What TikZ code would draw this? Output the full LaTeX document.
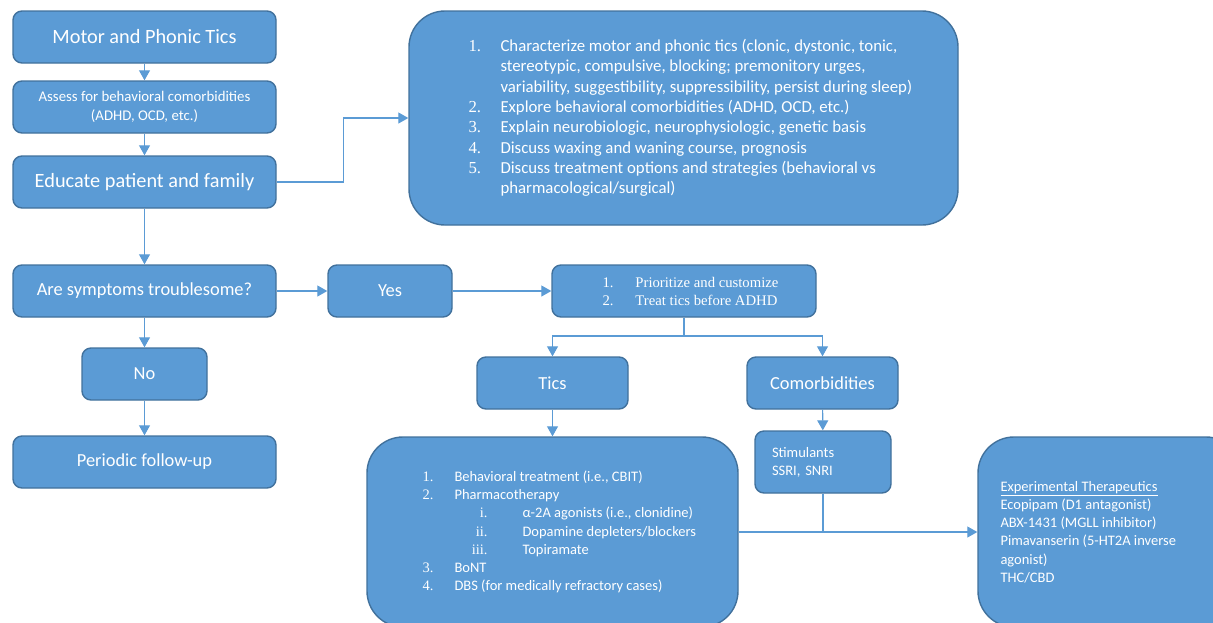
\documentclass[tikz,border=0pt]{standalone}
\usepackage{fontspec}
\setmainfont{Carlito}
\newfontfamily\numfont{Liberation Serif}
\usetikzlibrary{arrows.meta,calc,positioning}
\definecolor{boxfill}{RGB}{91,155,213}
\definecolor{boxedge}{RGB}{65,113,156}
\definecolor{linkblue}{RGB}{91,155,213}
\tikzset{
  box/.style={draw=boxedge, fill=boxfill, line width=1.4pt, rounded corners=9pt, text=white, align=center, inner sep=0pt},
  bigbox/.style={box, rounded corners=36pt},
  link/.style={-{Triangle[length=10pt,width=11pt]}, line width=1.1pt, draw=linkblue},
  joint/.style={line width=1.1pt, draw=linkblue},
  big/.style={font=\fontsize{20.3}{24}\selectfont},
  mid/.style={font=\fontsize{18.4}{22}\selectfont},
  small/.style={font=\fontsize{14.5}{18.2}\selectfont},
  listtext/.style={text=white, align=left, inner sep=0pt, anchor=west},
}
\newcommand{\numitem}[2]{\makebox[32pt][l]{\numfont #1}#2}
\newcommand{\romitem}[2]{\makebox[65pt][r]{\numfont #1}\hspace{35pt}#2}

\begin{document}
\begin{tikzpicture}[x=1pt,y=-1pt]
  \clip (0,0) rectangle (1213,622);

  % Left column: assessment and education.
  \node[box, big, minimum width=263pt, minimum height=52pt] (motor) at (144.5,37) {Motor and Phonic Tics};
  \node[box, font=\fontsize{14.8}{19}\selectfont, minimum width=263pt, minimum height=52pt] (assess) at (144.5,107)
    {Assess for behavioral comorbidities\\(ADHD, OCD, etc.)};
  \node[box, big, minimum width=263pt, minimum height=52pt] (educate) at (144.5,182) {Educate patient and family};

  \node[bigbox, minimum width=549pt, minimum height=214pt] (edubox) at (683.5,118) {};
  \node[listtext, font=\fontsize{16.8}{20.3}\selectfont] (edulist) at ($(edubox.west)+(60,0)$) {%
    \numitem{1.}{Characterize motor and phonic tics (clonic, dystonic, tonic,}\\
    \numitem{}{stereotypic, compulsive, blocking; premonitory urges,}\\
    \numitem{}{variability, suggestibility, suppressibility, persist during sleep)}\\
    \numitem{2.}{Explore behavioral comorbidities (ADHD, OCD, etc.)}\\
    \numitem{3.}{Explain neurobiologic, neurophysiologic, genetic basis}\\
    \numitem{4.}{Discuss waxing and waning course, prognosis}\\
    \numitem{5.}{Discuss treatment options and strategies (behavioral vs}\\
    \numitem{}{pharmacological/surgical)}};

  % Decision row.
  \node[box, mid, minimum width=263pt, minimum height=52pt] (trouble) at (144.5,291) {Are symptoms troublesome?};
  \node[box, mid, minimum width=124pt, minimum height=52pt] (yes) at (390,291) {Yes};
  \node[box, minimum width=264pt, minimum height=52pt] (prio) at (684,291) {};
  \node[listtext, font=\numfont\fontsize{14.7}{18}\selectfont] (priolist) at ($(prio.west)+(51,0)$) {%
    \makebox[33pt][l]{1.}Prioritize and customize\\
    \makebox[33pt][l]{2.}Treat tics before ADHD};

  \node[box, mid, minimum width=125pt, minimum height=52pt] (no) at (144.5,374) {No};
  \node[box, mid, minimum width=263pt, minimum height=52pt] (followup) at (144.5,462) {Periodic follow-up};

  % Treatment branches.
  \node[box, mid, minimum width=151pt, minimum height=52pt] (tics) at (552.5,383) {Tics};
  \node[box, mid, minimum width=151pt, minimum height=52pt] (comorb) at (822.5,383) {Comorbidities};

  \node[bigbox, minimum width=371pt, minimum height=190pt] (ticsbox) at (552.5,532) {};
  \node[listtext, small] (ticslist) at ($(ticsbox.west)+(56,0)$) {%
    \numitem{1.}{Behavioral treatment (i.e., CBIT)}\\
    \numitem{2.}{Pharmacotherapy}\\
    \romitem{i.}{α-2A agonists (i.e., clonidine)}\\
    \romitem{ii.}{Dopamine depleters/blockers}\\
    \romitem{iii.}{Topiramate}\\
    \numitem{3.}{BoNT}\\
    \numitem{4.}{DBS (for medically refractory cases)}};

  \node[box, small, align=left, text width=102pt, inner xsep=17pt, minimum height=62pt] (stim) at (823,462)
    {Stimulants\\SSRI, SNRI};

  \node[bigbox, minimum width=264pt, minimum height=190pt] (expbox) at (1110,532) {};
  \node[listtext, small] (explist) at ($(expbox.west)+(23,0)$) {%
    \underline{Experimental Therapeutics}\\
    Ecopipam (D1 antagonist)\\
    ABX-1431 (MGLL inhibitor)\\
    Pimavanserin (5-HT2A inverse\\
    agonist)\\
    THC/CBD};

  % Connectors.
  \draw[link] (motor) -- (assess);
  \draw[link] (assess) -- (educate);
  \draw[link] (educate.east) -- ++(67,0) |- (edubox.west);
  \draw[link] (educate) -- (trouble);
  \draw[link] (trouble) -- (yes);
  \draw[link] (yes) -- (prio);
  \draw[link] (trouble) -- (no);
  \draw[link] (no) -- (followup);

  \coordinate (split) at (684,336);
  \draw[joint] (prio.south) -- (split);
  \draw[link] (split) -| (tics.north);
  \draw[link] (split) -| (comorb.north);
  \draw[link] (tics) -- (ticsbox);
  \draw[link] (comorb) -- (stim);

  \draw[joint] (stim.south) -- (stim.south |- expbox.west);
  \draw[link] (ticsbox.east) -- (expbox.west);

\end{tikzpicture}
\end{document}
